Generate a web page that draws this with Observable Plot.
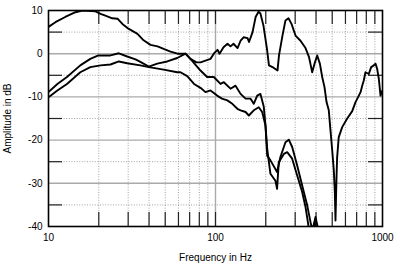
<!DOCTYPE html>
<html>
<head>
<meta charset="utf-8">
<script src="https://cdn.jsdelivr.net/npm/d3@7"></script>
<script src="https://cdn.jsdelivr.net/npm/@observablehq/plot@0.6"></script>
<style>
  html, body { margin: 0; padding: 0; background: #fff; }
  #chart svg { display: block; }
</style>
</head>
<body>
<div id="chart"></div>
<script>
// Curve A (top curve, with the deep notch near 520 Hz)
const freqA = [10, 11.0, 12.6, 14.5, 16.0, 19.1, 20.5, 21.9, 24.1, 25.9, 27.7, 30.1, 34.1, 37.1, 40.8, 45.0, 48.9, 53.8, 59.2, 66.1,
  70.8, 76.9, 81.3, 87.1, 93.3, 98.6, 102.8, 105.7, 111.7, 118.0, 123.0, 128.2, 135.5, 141.3, 147.3, 155.6, 158.8, 166.7, 173.9, 180.9,
  185.8, 193.7, 203.3, 209.0, 219.4, 235.1, 240.0, 251.8, 262.4, 273.6, 285.2, 301.4, 322.9, 346.0, 363.1, 379.3, 391.7, 406.4, 421.7, 435.5,
  449.7, 462.3, 476.8, 488.3, 500.0, 511.0, 518.3, 523.0, 530.4, 535.0, 547.0, 573.7, 614.7, 658.7, 689.4, 721.8, 738.9, 755.9, 772.5, 790.6,
  827.9, 855.3, 887.3, 907.9, 929.0, 950.6, 972.9, 1000];
const dbA = [6.2, 7.3, 8.5, 9.6, 10.0, 9.8, 9.2, 8.8, 8.2, 8.1, 6.9, 5.8, 4.6, 3.1, 2.05, 1.7, 1.1, 0.5, 0.0, 0.0,
  -1.2, -2.0, -2.0, -1.6, -1.2, 0.2, 0.9, 0.0, 1.5, 2.3, 1.7, 2.3, 1.3, 3.0, 3.8, 3.6, 2.7, 5.0, 8.5, 9.7,
  9.3, 6.5, 1.1, -2.7, -3.1, -3.9, -0.4, 4.2, 7.7, 8.2, 6.9, 4.2, 3.0, 1.3, -0.8, -4.3, -2.3, -0.4, -2.3, -5.4,
  -7.8, -11.2, -13.1, -17.8, -22.4, -27.0, -32.0, -38.6, -28.6, -24.0, -19.3, -17.0, -15.0, -13.3, -11.2, -9.7, -8.9, -7.4, -6.2, -4.3,
  -4.7, -3.1, -2.7, -2.3, -3.5, -5.8, -9.7, -8.5];

// Curve B (middle curve)
const freqB = [10, 11.3, 12.9, 15.5, 17.8, 19.9, 23.5, 26.4, 29.6, 33.2, 35.5, 39.9, 44.8, 51.4, 59.0, 66.1, 70.8, 81.3, 89.1, 97.7,
  107.2, 112.2, 123.0, 131.8, 141.3, 151.4, 162.2, 169.5, 177.7, 185.8, 194.6, 199.2, 203.9, 213.3, 233.7, 244.7, 262.4, 274.8, 287.8, 308.4,
  330.4, 354.0, 370.7, 381, 397, 414];
const dbB = [-8.9, -7.0, -5.4, -2.7, -1.2, -0.4, -0.4, 0.1, -0.65, -1.3, -1.9, -3.0, -2.3, -1.8, -1.0, 0.0, -1.2, -3.9, -5.4, -5.4,
  -7.0, -6.6, -8.1, -7.4, -9.3, -10.4, -10.4, -11.6, -9.7, -9.3, -12.3, -16.6, -23.6, -24.7, -27.4, -23.9, -20.5, -19.9, -21.6, -25.9,
  -30.5, -35.1, -39.0, -41.0, -37.8, -41.0];

// Curve C (lowest curve)
const freqC = [10, 11.3, 12.9, 15.5, 17.8, 20.5, 23.5, 26.4, 29.6, 35.5, 39.9, 48.9, 59.0, 61.7, 67.7, 74.4, 81.3, 87.1, 93.3, 102.3,
  109.3, 117.7, 126.1, 135.2, 141.3, 151.4, 158.4, 169.5, 181.6, 190.3, 199.2, 203.9, 213.3, 228.5, 233.7, 239.3, 256.6, 268.7, 287.8, 308.4,
  330.4, 346.0, 362.5, 378, 392, 404];
const dbC = [-10.1, -8.5, -7.0, -4.3, -3.1, -2.7, -2.5, -1.8, -2.2, -2.7, -3.1, -3.7, -4.3, -4.3, -5.2, -7.0, -7.9, -8.9, -8.5, -9.7,
  -10.4, -10.8, -11.6, -12.75, -13.1, -13.5, -14.3, -13.1, -12.4, -13.5, -16.6, -22.0, -27.8, -29.4, -31.3, -25.1, -23.2, -22.8, -24.3, -28.2,
  -32.0, -35.5, -40.5, -41.0, -39.0, -41.0];

// Axis tick values
const xLabels = [10, 100, 1000];
const xMinor = [20, 30, 40, 50, 60, 70, 80, 90, 200, 300, 400, 500, 600, 700, 800, 900];
const xMajorGrid = [100];
const yLabels = [10, 0, -10, -20, -30, -40];
const yMajorGrid = [0, -10, -20, -30];
const yMinor = [5, -5, -15, -25, -35];

const rows = [
  ...freqA.map((f, i) => ({series: "A", f, db: dbA[i]})),
  ...freqB.map((f, i) => ({series: "B", f, db: dbB[i]})),
  ...freqC.map((f, i) => ({series: "C", f, db: dbC[i]}))
];

const W = 400, H = 264, mL = 48, mR = 18, mT = 10, mB = 38;
const innerW = W - mL - mR, innerH = H - mT - mB;
const tickLen = 14;

const chart = Plot.plot({
  width: W,
  height: H,
  marginLeft: mL,
  marginRight: mR,
  marginTop: mT,
  marginBottom: mB,
  style: {fontFamily: "'Liberation Sans', Arial, Helvetica, sans-serif", fontSize: "10px", color: "#000", background: "#fff"},
  x: {type: "log", domain: [10, 1000]},
  y: {domain: [-40, 10]},
  marks: [
    // dotted minor grid
    Plot.ruleX(xMinor, {stroke: "#8a8a8a", strokeWidth: 0.8, strokeDasharray: "1,1.6"}),
    Plot.ruleY(yMinor, {stroke: "#8a8a8a", strokeWidth: 0.8, strokeDasharray: "1,1.6"}),
    // solid major grid
    Plot.ruleY(yMajorGrid, {stroke: "#aaaaaa", strokeWidth: 1.4}),
    Plot.ruleX(xMajorGrid, {stroke: "#aaaaaa", strokeWidth: 1.4}),
    // inner tick marks
    Plot.ruleX(xMinor.concat(xMajorGrid), {stroke: "#222", strokeWidth: 1.2, insetTop: innerH - tickLen}),
    Plot.ruleX(xMinor.concat(xMajorGrid), {stroke: "#222", strokeWidth: 1.2, insetBottom: innerH - tickLen}),
    Plot.ruleY(yMinor, {stroke: "#222", strokeWidth: 1.2, insetRight: innerW - tickLen}),
    Plot.ruleY(yMinor, {stroke: "#222", strokeWidth: 1.2, insetLeft: innerW - tickLen}),
    // curves
    Plot.line(rows, {x: "f", y: "db", z: "series", stroke: "#000", strokeWidth: 1.9, strokeLinejoin: "round", clip: true}),
    Plot.frame({stroke: "#000", strokeWidth: 1.6}),
    Plot.axisX(xLabels, {anchor: "bottom", tickSize: 0, tickPadding: 7, tickFormat: d => String(d),
      label: "Frequency in Hz", labelAnchor: "center", labelArrow: "none", labelOffset: 34, fontSize: 10}),
    Plot.axisY(yLabels, {anchor: "left", tickSize: 0, tickPadding: 6, tickFormat: d => String(d),
      label: "Amplitude in dB", labelAnchor: "center", labelArrow: "none", labelOffset: 45, fontSize: 10})
  ]
});
document.getElementById("chart").appendChild(chart);
</script>
</body>
</html>
